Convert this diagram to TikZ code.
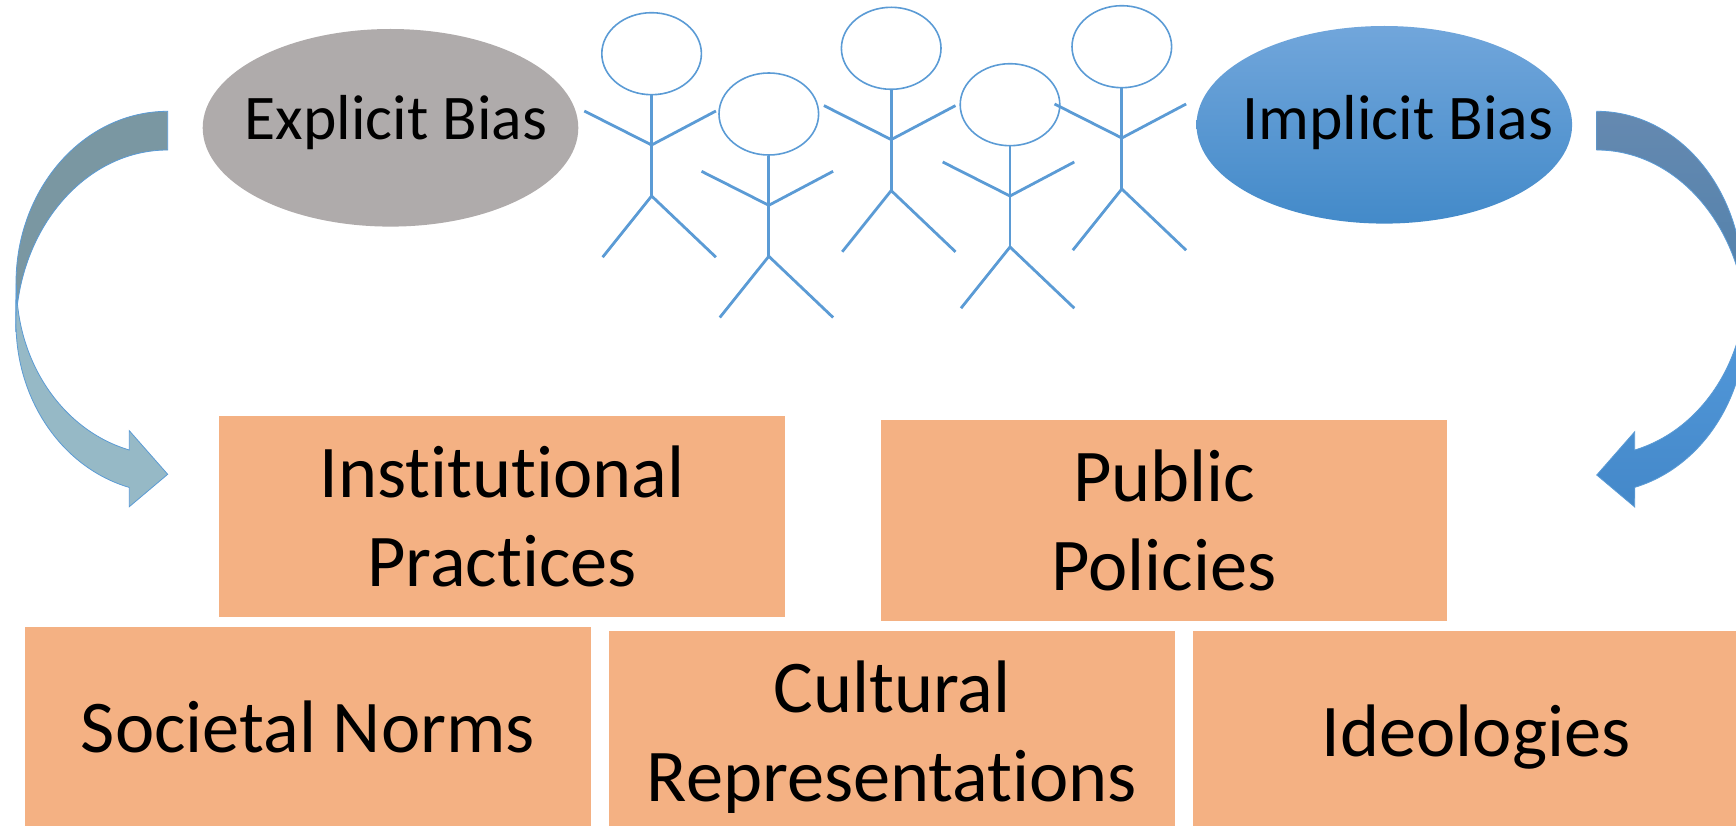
\documentclass[tikz,border=0pt]{standalone}
\usepackage{fontspec}
\usepackage{xcolor}
\setmainfont{Carlito}[Ligatures=NoCommon]
\usetikzlibrary{positioning, shapes.geometric}
\definecolor{boxorange}{HTML}{F4B183}
\definecolor{biasgray}{HTML}{AFABAB}
\definecolor{stickblue}{HTML}{5B9BD5}

\begin{document}
\begin{tikzpicture}[
    x=1pt, y=-1pt,
    bias/.style={ellipse, inner xsep=-45pt, inner ysep=0pt, minimum width=375.6pt, minimum height=197.6pt, font=\fontsize{63.6}{72}\selectfont, text height=39pt, text depth=16pt},
    factor/.style={rectangle, fill=boxorange, inner sep=0pt, minimum width=566pt, minimum height=201pt, align=center, font=\fontsize{74.4}{89}\selectfont, text depth=0pt},
    oneline/.style={factor, text height=60pt, text depth=10pt},
    head/.style={ellipse, draw=stickblue, line width=1.6pt, inner sep=0pt, minimum width=99.6pt, minimum height=82pt},
    stick/.style={draw=stickblue, line width=2.8pt},
    curved/.style={draw=stickblue, line width=0.8pt, line join=miter}
]
\clip (0,0) rectangle (1736,826);

% Left arrow
\coordinate (ltop) at (167.7,111.3);
\coordinate (lback) at (16,323);
\coordinate (ltip) at (167.7,474.3);
\filldraw[curved, fill={rgb,255:red,122;green,151;blue,162}] (ltop) arc[start angle=270, end angle=180, x radius=151.7, y radius=172]
    -- (15.7,332) arc[start angle=180, end angle=270, x radius=152, y radius=182] -- cycle;
\filldraw[curved, fill={rgb,255:red,150;green,185;blue,198}] (lback) arc[start angle=180, end angle=104.66, x radius=151.7, y radius=170]
    -- (129.3,506.7) -- (ltip) -- (129.3,430.7) -- (129.3,450)
    arc[start angle=104.66, end angle=180, x radius=151, y radius=170.6] -- cycle;

% Right arrow
\coordinate (rtop) at (1596.7,111.3);
\coordinate (rback) at (1745.7,323);
\coordinate (rtip) at (1596.7,475);
\shadedraw[curved, top color={rgb,255:red,101;green,137;blue,176}, bottom color={rgb,255:red,78;green,128;blue,171}] (rtop)
    arc[start angle=270, end angle=360, x radius=146, y radius=172]
    -- (1746.7,332) arc[start angle=360, end angle=270, x radius=150, y radius=182] -- cycle;
\shadedraw[curved, top color={rgb,255:red,85;green,156;blue,222}, bottom color={rgb,255:red,68;green,136;blue,201}] (rback)
    arc[start angle=0, end angle=75.2, x radius=149, y radius=170]
    -- (1634.7,507) -- (rtip) -- (1634.7,431.7) -- (1634.7,450)
    arc[start angle=75.2, end angle=0, x radius=149, y radius=170.6] -- cycle;

% Bias ellipses
\node[bias, fill=biasgray] (explicit) at (390.5,127.8) {\hspace*{11pt}Explicit Bias};
\node[bias, text depth=10pt, top color={rgb,255:red,113;green,166;blue,219}, middle color={rgb,255:red,85;green,155;blue,219}, bottom color={rgb,255:red,67;green,138;blue,201}] (implicit) at (1384.3,124.8) {\hspace*{27pt}Implicit Bias};

% Stick figures
\foreach \who/\px/\py in {a/651.6/53.7, b/768.8/114, c/891.2/48.3, d/1010/104.7, e/1121.8/46.7} {
  \begin{scope}[shift={(\px,\py)}]
    \node[head] (head\who) at (0,0) {};
    \coordinate (joint\who) at (0,91.3);
    \coordinate (hip\who) at (0,142.3);
    \draw[stick] (head\who.south) -- (joint\who) -- (hip\who);
    \draw[stick] (-67.3,57.3) -- (joint\who) -- (64.3,57.3);
    \draw[stick] (-49,203.5) -- (hip\who) -- (64.3,203.5);
  \end{scope}
}

% Factor boxes
\node[factor] (institutional) at (502,516.5) {Institutional\\Practices};
\node[factor] (public) at (1164.2,520.4) {Public\\Policies};
\node[oneline] (societal) at (307.9,727.5) {Societal Norms};
\node[factor] (cultural) at (892,731.5) {Cultural\\Representations};
\node[oneline] (ideologies) at (1476,731.5) {Ideologies};

\end{tikzpicture}
\end{document}
